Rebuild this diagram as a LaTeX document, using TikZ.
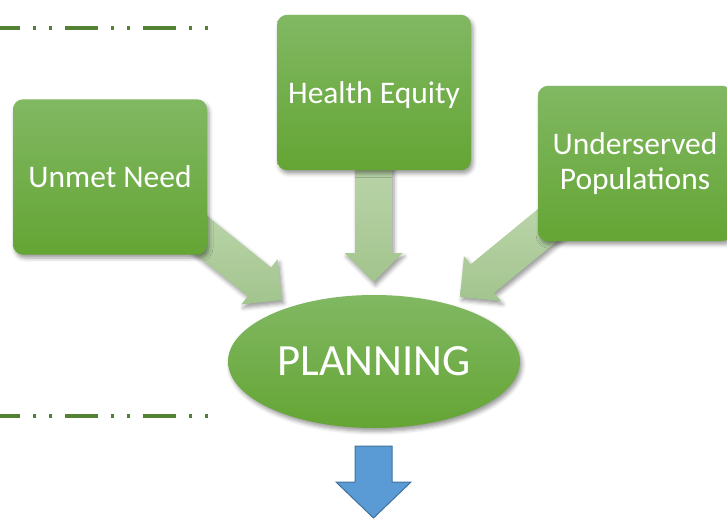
\documentclass[tikz,border=0pt]{standalone}
\usepackage{fontspec}
\setmainfont{Carlito}
\usetikzlibrary{calc,shapes.geometric,shadows.blur}

\definecolor{boxtop}{HTML}{81B863}
\definecolor{boxbottom}{HTML}{64A534}
\definecolor{arrowtop}{HTML}{BCD6AC}
\definecolor{arrowbottom}{HTML}{A2C48D}
\definecolor{linegreen}{HTML}{548235}
\definecolor{bluefill}{HTML}{5B9BD5}
\definecolor{blueedge}{HTML}{41719C}

\tikzset{
  softshadow/.style={blur shadow={shadow xshift=1.5pt, shadow yshift=-2.5pt, shadow blur radius=3pt, shadow opacity=40}},
  greenbox/.style={rounded corners=7.5pt, top color=boxtop, bottom color=boxbottom, softshadow,
    minimum width=145.5pt, minimum height=116.5pt, inner sep=0pt, align=center,
    text=white, font=\fontsize{23.6}{26.5}\selectfont},
  planbox/.style={ellipse, top color=boxtop, bottom color=boxbottom, softshadow,
    minimum width=219pt, minimum height=99.75pt, inner sep=0pt,
    text=white, font=\fontsize{33.5}{40}\selectfont},
  arrowshape/.style={top color=arrowtop, bottom color=arrowbottom, softshadow},
  sepline/.style={draw=linegreen, line width=3pt,
    dash pattern=on 24.75pt off 9.75pt on 2.25pt off 9.75pt on 2.25pt off 9.75pt, dash phase=9.75pt}
}

% block arrow: #1 tip, #2 direction, #3 length
\newcommand{\blockarrow}[3]{%
  \path[arrowshape] (#1) -- ($(#1)+(#2+180:29)+(#2+90:29)$) -- ($(#1)+(#2+180:29)+(#2+90:18.5)$)
    -- ($(#1)+(#2+180:#3)+(#2+90:18.5)$) -- ($(#1)+(#2+180:#3)+(#2-90:18.5)$)
    -- ($(#1)+(#2+180:29)+(#2-90:18.5)$) -- ($(#1)+(#2+180:29)+(#2-90:29)$) -- cycle;}

\begin{document}
\begin{tikzpicture}[x=0.75pt,y=0.75pt,yscale=-1,xscale=1]
\useasboundingbox (0,0) rectangle (727,521);

% Lines
\draw[sepline] (0,28) -- (212,28);
\draw[sepline] (0,416) -- (212,416);

% Arrows
\coordinate (tipunmet) at (282,300);
\coordinate (tipequity) at (373.5,282);
\coordinate (tipunder) at (460,297);
\blockarrow{tipunmet}{38.8}{130}
\blockarrow{tipequity}{90}{130}
\blockarrow{tipunder}{140.6}{130}

% Boxes
\node[greenbox] (unmet) at (110,177) {Unmet Need};
\node[greenbox, text depth=0pt] (equity) at (374,92.5) {Health Equity};
\node[greenbox] (under) at (635,163.5) {Underserved\\Populations};
\node[planbox] (plan) at (374,361.5) {PLANNING};

% Output arrow
\draw[fill=bluefill, draw=blueedge, line width=0.75pt] (355,446) -- (392,446) -- (392,482) -- (411,482)
  -- (373.5,518) -- (336,482) -- (355,482) -- cycle;

\end{tikzpicture}
\end{document}
